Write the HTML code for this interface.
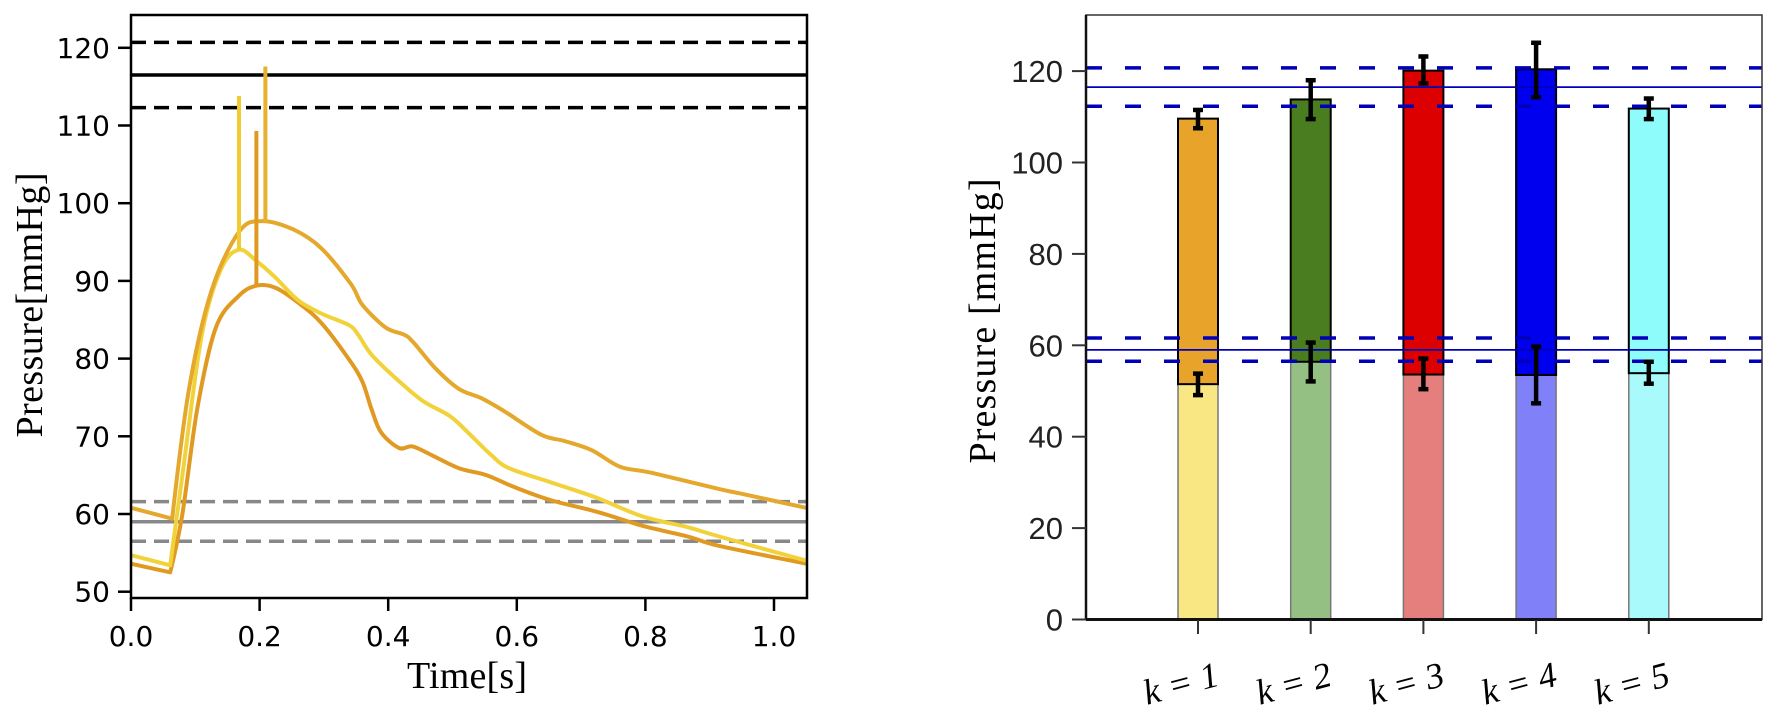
<!DOCTYPE html>
<html><head><meta charset="utf-8"><style>
html,body{margin:0;padding:0;background:#fff;}
svg{display:block;}
</style></head><body>
<svg id="fig" width="1772" height="713" viewBox="0 0 1772 713" xmlns="http://www.w3.org/2000/svg">
<defs>
<clipPath id="clipL"><rect x="131" y="15" width="676" height="583"/></clipPath>
</defs>
<g id="left"></g>
<g id="right"></g>
</svg>
<script>
// ---- Left chart data ----
const curveATimes = [0, .064, .09, .125, .168, .203, .253, .296, .342, .36, .396, .424, .438, .474, .51, .545, .581, .638, .674, .717, .76, .81, .915, .95, 1.05];
const curveAValues = [60.8, 59.4, 76, 88.7, 96.3, 97.7, 96.6, 94.2, 89.6, 86.9, 84, 83.1, 82.2, 78.7, 76.1, 74.9, 73.2, 70.2, 69.4, 68.2, 66.1, 65.3, 63.2, 62.6, 60.8];
const curveBTimes = [0, .061, .08, .11, .14, .168, .196, .225, .26, .296, .339, .353, .374, .41, .453, .496, .524, .56, .588, .652, .724, .795, .866, .915, 1.05];
const curveBValues = [54.7, 53.4, 65, 83, 91.5, 94, 92.5, 90.4, 87.5, 85.8, 84.3, 83.1, 80.5, 77.6, 74.6, 72.6, 70.5, 67.6, 65.9, 64.1, 62.1, 59.7, 58.3, 57.1, 54];
const curveCTimes = [0, .061, .08, .103, .132, .168, .196, .225, .26, .296, .339, .36, .374, .389, .417, .438, .467, .51, .553, .595, .652, .724, .795, .866, .915, 1.05];
const curveCValues = [53.6, 52.5, 60, 73.5, 84, 88.1, 89.4, 89.1, 87.2, 84.6, 79.9, 77, 73.5, 70.5, 68.5, 68.7, 67.6, 65.9, 65, 63.5, 61.8, 60.3, 58.5, 57.1, 55.9, 53.6];
const spikeTimes = [0.168, 0.195, 0.209];
const spikeBase = [94, 89.4, 97.5];
const spikeTop = [113.8, 109.3, 117.6];
const systolicRef = [120.7, 116.5, 112.3];
const diastolicRef = [61.6, 59.0, 56.5];
const xTicksL = [0.0, 0.2, 0.4, 0.6, 0.8, 1.0];
const yTicksL = [50, 60, 70, 80, 90, 100, 110, 120];
// ---- Right chart data ----
const barLabels = ["1", "2", "3", "4", "5"];
const sysMean = [109.6, 113.8, 120.1, 120.4, 111.8];
const sysErrHi = [111.5, 118, 123.2, 126.2, 114];
const sysErrLo = [107.5, 109.5, 117.3, 114.3, 109.5];
const diaMean = [51.5, 56.4, 53.6, 53.5, 53.9];
const diaErrHi = [53.8, 60.6, 57.1, 59.7, 56.4];
const diaErrLo = [49.1, 52.1, 50.4, 47.3, 51.6];
const yTicksR = [0, 20, 40, 60, 80, 100, 120];

const NS = "http://www.w3.org/2000/svg";
function mk(parent, tag, attrs, text) {
  const e = document.createElementNS(NS, tag);
  for (const k in attrs) e.setAttribute(k, attrs[k]);
  if (text !== undefined) e.textContent = text;
  parent.appendChild(e);
  return e;
}
// ---------- LEFT ----------
const L = document.getElementById('left');
const xL = t => 131 + t * 643;
const yL = p => 591.7 - (p - 50) * 7.77;
const plotL = mk(L, 'g', {'clip-path': 'url(#clipL)'});


systolicRef.forEach((v, i) => {
  const l = mk(plotL, 'line', {x1: 131, x2: 807, y1: yL(v), y2: yL(v), stroke: '#000', 'stroke-width': 3.5, 'stroke-dasharray': i === 1 ? '' : '15 8'});
  
  
});
diastolicRef.forEach((v, i) => {
  const l = mk(plotL, 'line', {x1: 131, x2: 807, y1: yL(v), y2: yL(v), stroke: '#888', 'stroke-width': 3.5, 'stroke-dasharray': i === 1 ? '' : '15 8'});
  
  
});
function smoothPath(pts) {
  let d = 'M' + pts[0][0].toFixed(1) + ',' + pts[0][1].toFixed(1);
  for (let i = 0; i < pts.length - 1; i++) {
    const p0 = pts[Math.max(0, i - 1)], p1 = pts[i], p2 = pts[i + 1], p3 = pts[Math.min(pts.length - 1, i + 2)];
    // keep the dip corner sharp
    const sharp1 = i === 1, sharp2 = i + 1 === 1;
    const c1 = sharp1 ? p1 : [p1[0] + (p2[0] - p0[0]) / 6, p1[1] + (p2[1] - p0[1]) / 6];
    const c2 = sharp2 ? p2 : [p2[0] - (p3[0] - p1[0]) / 6, p2[1] - (p3[1] - p1[1]) / 6];
    d += ' C' + c1[0].toFixed(1) + ',' + c1[1].toFixed(1) + ' ' + c2[0].toFixed(1) + ',' + c2[1].toFixed(1) + ' ' + p2[0].toFixed(1) + ',' + p2[1].toFixed(1);
  }
  return d;
}
function curve(ts, vs, color, name) {
  const pts = ts.map((t, i) => [xL(t), yL(vs[i])]);
  const p = mk(plotL, 'path', {d: smoothPath(pts), fill: 'none', stroke: color, 'stroke-width': 4, 'stroke-linejoin': 'round'});
  
  
}
curve(curveCTimes, curveCValues, '#e09a22', 'pressure-curve-3');
curve(curveBTimes, curveBValues, '#f2d23a', 'pressure-curve-2');
curve(curveATimes, curveAValues, '#e4a82c', 'pressure-curve-1');
const spikeColors = ['#f0cc30', '#e09a22', '#e8b02c'];
spikeTimes.forEach((t, i) => {
  const l = mk(plotL, 'line', {x1: xL(t), x2: xL(t), y1: yL(spikeBase[i]), y2: yL(spikeTop[i]), stroke: spikeColors[i], 'stroke-width': 4});
  
  
});
const frameL = mk(L, 'rect', {x: 131, y: 15, width: 676, height: 583, fill: 'none', stroke: '#000', 'stroke-width': 2.5});


yTicksL.forEach(v => {
  const tk = mk(L, 'line', {x1: 118, x2: 131, y1: yL(v), y2: yL(v), stroke: '#000', 'stroke-width': 2.5});
  
  
  const tx = mk(L, 'text', {x: 110, y: yL(v) + 10, 'text-anchor': 'end', 'font-family': 'DejaVu Sans, sans-serif', 'font-size': 28, fill: '#000'}, String(v));
  
  
});
xTicksL.forEach(v => {
  const tk = mk(L, 'line', {x1: xL(v), x2: xL(v), y1: 598, y2: 611, stroke: '#000', 'stroke-width': 2.5});
  
  
  const tx = mk(L, 'text', {x: xL(v), y: 646, 'text-anchor': 'middle', 'font-family': 'DejaVu Sans, sans-serif', 'font-size': 28, fill: '#000'}, v.toFixed(1));
  
  
});
const xtL = mk(L, 'text', {x: 467, y: 688, 'text-anchor': 'middle', 'font-family': 'Liberation Serif, serif', 'font-size': 38, textLength: 120, fill: '#000'}, 'Time[s]');


const ytL = mk(L, 'text', {x: 0, y: 0, transform: 'translate(42,305) rotate(-90)', 'text-anchor': 'middle', 'font-family': 'Liberation Serif, serif', 'font-size': 38, textLength: 265, fill: '#000'}, 'Pressure[mmHg]');



// ---------- RIGHT ----------
const R = document.getElementById('right');
const yR = v => 619.5 - v * 4.57;
const xR = i => 1198 + i * 112.7;
const BW = 40;
const upperColors = ['#e8a42a', '#4a7d20', '#dd0000', '#0000ee', '#8ffcfc'];
const lowerColors = ['#f9e784', '#95c083', '#e57f7d', '#8080f8', '#a9fbfb'];
barLabels.forEach((lab, i) => {
  const lo = mk(R, 'rect', {x: xR(i) - BW / 2, y: yR(diaMean[i]), width: BW, height: yR(0) - yR(diaMean[i]), fill: lowerColors[i], stroke: '#777', 'stroke-width': 1.5});
  
  
  const up = mk(R, 'rect', {x: xR(i) - BW / 2, y: yR(sysMean[i]), width: BW, height: yR(diaMean[i]) - yR(sysMean[i]), fill: upperColors[i], stroke: '#000', 'stroke-width': 2});
  
  
});
function hline(v, dashed, name) {
  const l = mk(R, 'line', {x1: 1086, x2: 1762, y1: yR(v), y2: yR(v), stroke: '#0000b8', 'stroke-width': dashed ? 3.5 : 1.8, 'stroke-dasharray': dashed ? '16 23' : ''});
  
  
}
systolicRef.forEach((v, i) => hline(v, i !== 1, i === 1 ? 'systolic-mean-line' : 'systolic-bound-line'));
diastolicRef.forEach((v, i) => hline(v, i !== 1, i === 1 ? 'diastolic-mean-line' : 'diastolic-bound-line'));
function errbar(x, hi, lo, name) {
  const g = mk(R, 'g', {});
  
  
  mk(g, 'line', {x1: x, x2: x, y1: yR(hi), y2: yR(lo), stroke: '#000', 'stroke-width': 4.5});
  mk(g, 'line', {x1: x - 5, x2: x + 5, y1: yR(hi), y2: yR(hi), stroke: '#000', 'stroke-width': 4.5});
  mk(g, 'line', {x1: x - 5, x2: x + 5, y1: yR(lo), y2: yR(lo), stroke: '#000', 'stroke-width': 4.5});
}
barLabels.forEach((lab, i) => {
  errbar(xR(i), sysErrHi[i], sysErrLo[i], 'systolic-error-k' + lab);
  errbar(xR(i), diaErrHi[i], diaErrLo[i], 'diastolic-error-k' + lab);
});
const frameR = mk(R, 'rect', {x: 1086, y: 15, width: 676, height: 604.5, fill: 'none', stroke: '#333', 'stroke-width': 1.5});


const axisR = mk(R, 'line', {x1: 1086, x2: 1762, y1: 619.5, y2: 619.5, stroke: '#111', 'stroke-width': 3});


const yaxR = mk(R, 'line', {x1: 1086, x2: 1086, y1: 15, y2: 619.5, stroke: '#111', 'stroke-width': 2.5});


yTicksR.forEach(v => {
  const tk = mk(R, 'line', {x1: 1072, x2: 1086, y1: yR(v), y2: yR(v), stroke: '#333', 'stroke-width': 2});
  
  
  const tx = mk(R, 'text', {x: 1063, y: yR(v) + 11, 'text-anchor': 'end', 'font-family': 'Liberation Sans, sans-serif', 'font-size': 31, fill: '#222'}, String(v));
  
  
});
barLabels.forEach((lab, i) => {
  const tk = mk(R, 'line', {x1: xR(i), x2: xR(i), y1: 620, y2: 634, stroke: '#333', 'stroke-width': 2});
  
  
  const tx = mk(R, 'text', {x: 0, y: 0, transform: 'translate(' + (xR(i) - 14) + ',695) rotate(-15)', 'text-anchor': 'middle', 'font-family': 'Liberation Serif, serif', 'font-size': 36, 'font-style': 'italic', fill: '#000'}, 'k = ' + lab);
  
  
});
const ytR = mk(R, 'text', {x: 0, y: 0, transform: 'translate(995,321) rotate(-90)', 'text-anchor': 'middle', 'font-family': 'Liberation Serif, serif', 'font-size': 38, textLength: 285, fill: '#000'}, 'Pressure [mmHg]');


</script>
</body></html>
